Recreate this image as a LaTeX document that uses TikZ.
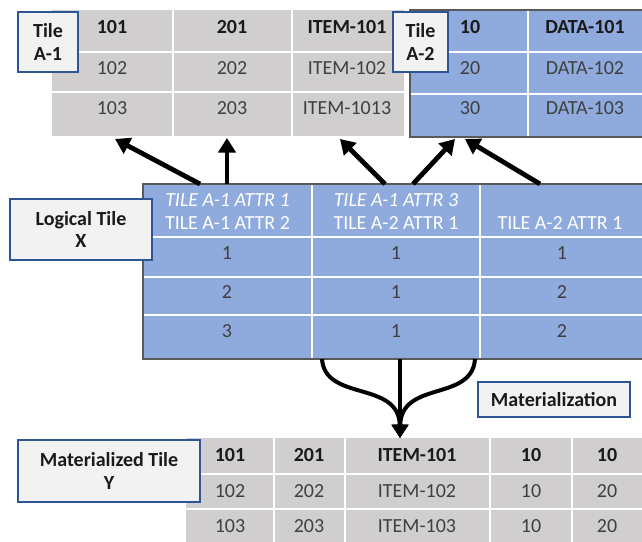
\documentclass[tikz,border=0pt]{standalone}
\usepackage{fontspec}
\setmainfont{Carlito}
\usetikzlibrary{arrows.meta}
\definecolor{tilegray}{HTML}{D0CECE}
\definecolor{tileblue}{HTML}{8FAADC}
\definecolor{lblblue}{HTML}{2F5597}
\definecolor{lblfill}{HTML}{F2F2F2}
\definecolor{celltext}{HTML}{404040}
\definecolor{headtext}{HTML}{1A1A1A}
\definecolor{frameline}{HTML}{595959}
\begin{document}
\begin{tikzpicture}[x=0.75pt,y=-0.75pt,
  lbl/.style={draw=lblblue, fill=lblfill, line width=1.6pt, align=center, inner sep=0pt,
    font=\fontsize{15}{17}\selectfont\bfseries, text=headtext},
  cell/.style={font=\fontsize{15}{17}\selectfont, text=celltext, inner sep=0pt},
  headcell/.style={cell, font=\fontsize{15}{17}\selectfont\bfseries, text=headtext},
  attr/.style={font=\fontsize{15}{17}\selectfont, text=white, align=center, inner sep=0pt},
  tablebg/.style={inner sep=0pt, outer sep=0pt},
  sep/.style={white, line width=0.9pt},
  thicksep/.style={white, line width=2.2pt},
  tframe/.style={frameline, line width=0.9pt},
  link/.style={line width=3.6pt, -{Triangle[length=11pt,width=13pt]}},
  merge/.style={line width=3pt, -{Triangle[length=10pt,width=12pt]}},
]
\useasboundingbox (0,0) rectangle (642,542);
\fill[white] (0,0) rectangle (642,542);

% ---------- Tile A-1 ----------
\node[tablebg, fill=tilegray, minimum width=264pt, minimum height=94.5pt] (tileA1) at (228,73) {};
\draw[sep] (173,10) -- (173,136);
\draw[sep] (292,10) -- (292,136);
\draw[thicksep] (52,52) -- (404,52);
\draw[sep] (52,92) -- (404,92);
\foreach \cx/\txt [count=\c] in {112/101, 232/201, 347/ITEM-101}
  \node[headcell] (a1-1-\c) at (\cx,27) {\txt};
\foreach \cx/\txt [count=\c] in {112/102, 232/202, 347/ITEM-102}
  \node[cell] (a1-2-\c) at (\cx,68) {\txt};
\foreach \cx/\txt [count=\c] in {112/103, 232/203, 347/ITEM-1013}
  \node[cell] (a1-3-\c) at (\cx,108) {\txt};

% ---------- Tile A-2 ----------
\node[tablebg, fill=tileblue, minimum width=174pt, minimum height=95.25pt] (tileA2) at (526,73.5) {};
\draw[sep] (528,10) -- (528,137);
\draw[thicksep] (410,52) -- (642,52);
\draw[sep] (410,94) -- (642,94);
\draw[tframe] (642,10) -- (410,10) -- (410,137) -- (642,137);
\foreach \cx/\txt [count=\c] in {470/10, 585/DATA-101}
  \node[headcell] (a2-1-\c) at (\cx,27) {\txt};
\foreach \cx/\txt [count=\c] in {470/20, 585/DATA-102}
  \node[cell] (a2-2-\c) at (\cx,68) {\txt};
\foreach \cx/\txt [count=\c] in {470/30, 585/DATA-103}
  \node[cell] (a2-3-\c) at (\cx,108) {\txt};

% ---------- Logical tile X ----------
\node[tablebg, fill=tileblue, minimum width=374.25pt, minimum height=131.25pt] (tileX) at (392.5,271.5) {};
\draw[thicksep] (143,237) -- (642,237);
\draw[sep] (143,277) -- (642,277);
\draw[sep] (143,315) -- (642,315);
\draw[sep] (312,184) -- (312,359);
\draw[sep] (480,184) -- (480,359);
\draw[tframe] (642,184) -- (143,184) -- (143,359) -- (642,359);
\node[attr] (x-h1) at (227.5,211.5) {\textit{TILE A-1 ATTR 1}\\TILE A-1 ATTR 2};
\node[attr] (x-h2) at (396,211.5) {\textit{TILE A-1 ATTR 3}\\TILE A-2 ATTR 1};
\node[attr, anchor=base] (x-h3) at (560,229) {TILE A-2 ATTR 1};
\foreach \ry/\a/\b/\cc [count=\r] in {253/1/1/1, 292/2/1/2, 331/3/1/2} {
  \node[cell] (x-\r-1) at (227,\ry) {\a};
  \node[cell] (x-\r-2) at (396,\ry) {\b};
  \node[cell] (x-\r-3) at (562,\ry) {\cc};
}

% ---------- Materialized tile Y ----------
\node[tablebg, fill=tilegray, minimum width=342pt, minimum height=78pt] (tileY) at (414,490) {};
\draw[thicksep] (186,474) -- (642,474);
\draw[sep] (186,509) -- (642,509);
\foreach \lx in {274,345,490,572}
  \draw[sep] (\lx,438) -- (\lx,542);
\foreach \cx/\txt [count=\c] in {230/101, 309/201, 417/ITEM-101, 531/10, 607/10}
  \node[headcell] (y-1-\c) at (\cx,455) {\txt};
\foreach \cx/\txt [count=\c] in {230/102, 309/202, 417/ITEM-102, 531/10, 607/20}
  \node[cell] (y-2-\c) at (\cx,491) {\txt};
\foreach \cx/\txt [count=\c] in {230/103, 309/203, 417/ITEM-103, 531/10, 607/20}
  \node[cell] (y-3-\c) at (\cx,526) {\txt};

% ---------- links from X up to its source tiles ----------
\coordinate (s1) at (200,184);  \coordinate (t1) at (115,139);
\coordinate (s2) at (227,184);  \coordinate (t2) at (227,138);
\coordinate (s3) at (385,184);  \coordinate (t3) at (340,139);
\coordinate (s4) at (413,184);  \coordinate (t4) at (455,139);
\coordinate (s5) at (540,184);  \coordinate (t5) at (465,139);
\foreach \k in {1,...,5}
  \draw[link] (s\k) -- (t\k);

% ---------- materialization: X merges down into Y ----------
\coordinate (m1) at (322,359);
\coordinate (m2) at (400,359);
\coordinate (m3) at (475,359);
\coordinate (my) at (400,438);
\draw[merge] (m1) .. controls (325,402) and (399,380) .. (my);
\draw[merge] (m3) .. controls (472,402) and (401,380) .. (my);
\draw[merge] (m2) -- (my);

% ---------- labels ----------
\node[lbl, minimum width=45pt, minimum height=45pt] (lblA1) at (48,42) {Tile\\A-1};
\node[lbl, minimum width=41.25pt, minimum height=45pt] (lblA2) at (420.5,42) {Tile\\A-2};
\node[lbl, minimum width=106.5pt, minimum height=45.75pt] (lblX) at (81,229.5) {Logical Tile\\X};
\node[lbl, minimum width=114pt, minimum height=26.25pt] (lblMat) at (554,399.5) {Materialization};
\node[lbl, minimum width=136.5pt, minimum height=46.5pt] (lblY) at (109,471) {Materialized Tile\\Y};
\end{tikzpicture}
\end{document}
